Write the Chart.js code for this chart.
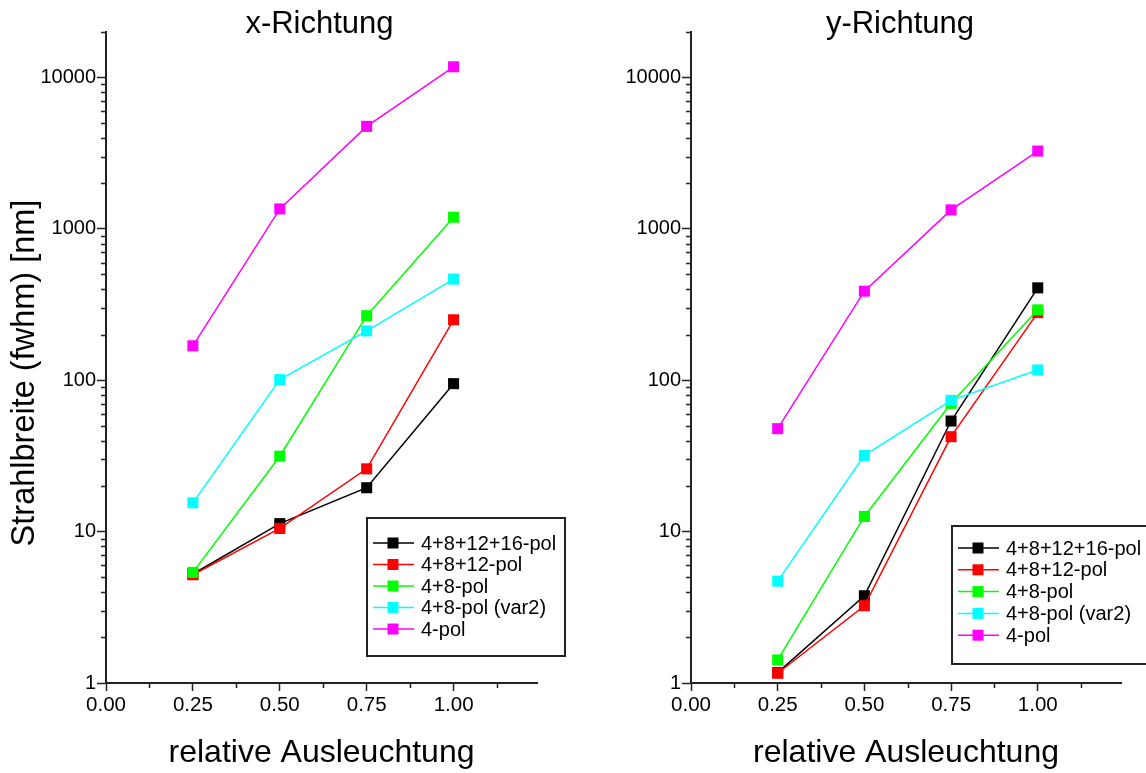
<!DOCTYPE html>
<html>
<head>
<meta charset="utf-8">
<title>Strahlbreite</title>
<script src="https://cdn.jsdelivr.net/npm/chart.js@4.4.1/dist/chart.umd.min.js"></script>
<style>
  html, body { margin: 0; padding: 0; background: #ffffff; }
  #wrap { position: relative; width: 1146px; height: 773px; overflow: hidden; }
  canvas { position: absolute; top: 0; }
</style>
</head>
<body>
<div id="wrap">
  <canvas id="chartX" width="573" height="773" style="left:0"></canvas>
  <canvas id="chartY" width="573" height="773" style="left:573px"></canvas>
</div>
<script>
// relative illumination (x values shared by all series)
const illumination = [0.25, 0.5, 0.75, 1.0];
const seriesNames = ['4+8+12+16-pol', '4+8+12-pol', '4+8-pol', '4+8-pol (var2)', '4-pol'];
const seriesColors = ['#000000', '#ff0000', '#00ff00', '#00ffff', '#ff00ff'];

// beam width (fwhm) in nm, x direction
const xPol16 = [5.25, 11.3, 19.5, 95];
const xPol12 = [5.19, 10.5, 26.0, 251];
const xPol8 = [5.38, 31.5, 267, 1195];
const xPol8v2 = [15.5, 101, 212, 466];
const xPol4 = [169, 1356, 4760, 11780];

// beam width (fwhm) in nm, y direction
const yPol16 = [1.17, 3.77, 53.8, 408];
const yPol12 = [1.16, 3.24, 42.4, 280];
const yPol8 = [1.42, 12.6, 70.4, 292];
const yPol8v2 = [4.71, 31.9, 73.7, 117];
const yPol4 = [47.9, 388, 1336, 3270];

// axis ticks
const xMajorTicks = [0, 0.25, 0.5, 0.75, 1.0];
const xMinorTicks = [0.125, 0.375, 0.625, 0.875, 1.125];
const yMajorTicks = [1, 10, 100, 1000, 10000];

const FONT = "'Liberation Sans', Arial, Helvetica, sans-serif";
const AXIS_COLOR = '#222222';

function makeDatasets(seriesList) {
  return seriesList.map((values, i) => ({
    label: seriesNames[i],
    data: illumination.map((x, k) => ({ x: x, y: values[k] })),
    borderColor: seriesColors[i],
    backgroundColor: seriesColors[i],
    borderWidth: 1.5,
    pointStyle: 'rect',
    pointRadius: 7.8,
    pointBorderWidth: 0,
    pointBackgroundColor: seriesColors[i],
    tension: 0,
    // later series are painted on top
    order: seriesList.length - i
  }));
}

// minor ticks, chart heading, rotated y title and the boxed legend
const framePlugin = {
  id: 'frame',
  afterDraw(chart, args, opts) {
    const ctx = chart.ctx;
    const xs = chart.scales.x;
    const ys = chart.scales.y;
    ctx.save();
    ctx.strokeStyle = AXIS_COLOR;
    ctx.lineWidth = 1.5;
    ctx.beginPath();
    xMinorTicks.forEach(v => {
      if (v > xs.max) return;
      const px = Math.round(xs.getPixelForValue(v)) + 0.5;
      ctx.moveTo(px, xs.top);
      ctx.lineTo(px, xs.top + 5);
    });
    for (let d = 1; d <= 10000; d *= 10) {
      for (let m = 2; m <= 9; m++) {
        const v = d * m;
        if (v > ys.max) break;
        const py = Math.round(ys.getPixelForValue(v)) + 0.5;
        ctx.moveTo(ys.right - 5, py);
        ctx.lineTo(ys.right, py);
      }
    }
    ctx.stroke();

    // heading
    const area = chart.chartArea;
    ctx.fillStyle = '#000000';
    ctx.font = opts.titleSize + 'px ' + FONT;
    ctx.textAlign = 'center';
    ctx.textBaseline = 'middle';
    ctx.fillText(opts.title, (area.left + area.right) / 2 + opts.titleShift, opts.titleY);

    // y axis title
    if (opts.yTitle) {
      ctx.save();
      ctx.translate(opts.yTitleX, opts.yTitleY);
      ctx.rotate(-Math.PI / 2);
      ctx.font = opts.axisTitleSize + 'px ' + FONT;
      ctx.fillText(opts.yTitle, 0, 0);
      ctx.restore();
    }

    // legend
    const lg = opts.legend;
    ctx.fillStyle = '#ffffff';
    ctx.fillRect(lg.x, lg.y, lg.w, lg.h);
    ctx.lineWidth = 2;
    ctx.strokeStyle = AXIS_COLOR;
    ctx.strokeRect(lg.x, lg.y, lg.w, lg.h);
    ctx.font = lg.fontSize + 'px ' + FONT;
    ctx.textAlign = 'left';
    ctx.textBaseline = 'middle';
    chart.data.datasets.forEach((ds, i) => {
      const y = lg.y + lg.row0 + i * lg.gap;
      ctx.strokeStyle = ds.borderColor;
      ctx.lineWidth = 1.5;
      ctx.beginPath();
      ctx.moveTo(lg.x + 6, y);
      ctx.lineTo(lg.x + 47, y);
      ctx.stroke();
      ctx.fillStyle = ds.backgroundColor;
      ctx.fillRect(lg.x + 20.5, y - 5.5, 11, 11);
      ctx.fillStyle = '#000000';
      ctx.fillText(ds.label, lg.x + 54, y + 1);
    });
    ctx.restore();
  }
};

function makeChart(canvasId, seriesList, cfg) {
  return new Chart(document.getElementById(canvasId), {
    type: 'line',
    data: { datasets: makeDatasets(seriesList) },
    plugins: [framePlugin],
    options: {
      responsive: false,
      animation: false,
      events: [],
      devicePixelRatio: 1,
      layout: { padding: { top: 32, right: cfg.padRight, left: 0, bottom: 0 } },
      plugins: {
        legend: { display: false },
        tooltip: { enabled: false },
        title: { display: false },
        frame: cfg.frame
      },
      scales: {
        x: {
          type: 'linear',
          min: 0,
          max: 1.24,
          afterBuildTicks(scale) { scale.ticks = xMajorTicks.map(v => ({ value: v })); },
          afterFit(scale) { scale.height = 90; },
          grid: {
            display: true, drawOnChartArea: false, drawTicks: true,
            tickLength: 8, tickColor: AXIS_COLOR, tickWidth: 1.5
          },
          border: { display: true, color: AXIS_COLOR, width: 2 },
          ticks: {
            padding: 2,
            color: '#000000',
            font: { family: FONT, size: 20.5 },
            maxRotation: 0,
            callback: v => Number(v).toFixed(2)
          },
          title: {
            display: true,
            text: 'relative Ausleuchtung',
            color: '#000000',
            font: { family: FONT, size: 32 },
            padding: { top: 0, bottom: 1 }
          }
        },
        y: {
          type: 'logarithmic',
          min: 1,
          max: 20000,
          afterBuildTicks(scale) { scale.ticks = yMajorTicks.map(v => ({ value: v })); },
          afterFit(scale) { scale.width = cfg.yWidth; },
          grid: {
            display: true, drawOnChartArea: false, drawTicks: true,
            tickLength: 9, tickColor: AXIS_COLOR, tickWidth: 1.5
          },
          border: { display: true, color: AXIS_COLOR, width: 2 },
          ticks: {
            padding: 1,
            color: '#000000',
            font: { family: FONT, size: 20 },
            callback: v => String(v)
          }
        }
      }
    }
  });
}

makeChart('chartX', [xPol16, xPol12, xPol8, xPol8v2, xPol4], {
  padRight: 36,
  yWidth: 106,
  frame: {
    title: 'x-Richtung', titleSize: 31, titleY: 24, titleShift: -2,
    yTitle: 'Strahlbreite (fwhm) [nm]', yTitleX: 25, yTitleY: 373, axisTitleSize: 32.5,
    legend: { x: 367, y: 518, w: 198, h: 138, row0: 25, gap: 21.5, fontSize: 20 }
  }
});

makeChart('chartY', [yPol16, yPol12, yPol8, yPol8v2, yPol4], {
  padRight: 25,
  yWidth: 118,
  frame: {
    title: 'y-Richtung', titleSize: 31, titleY: 24, titleShift: -6,
    yTitle: null,
    legend: { x: 379, y: 526, w: 210, h: 138, row0: 22, gap: 21.8, fontSize: 20 }
  }
});
</script>
</body>
</html>
